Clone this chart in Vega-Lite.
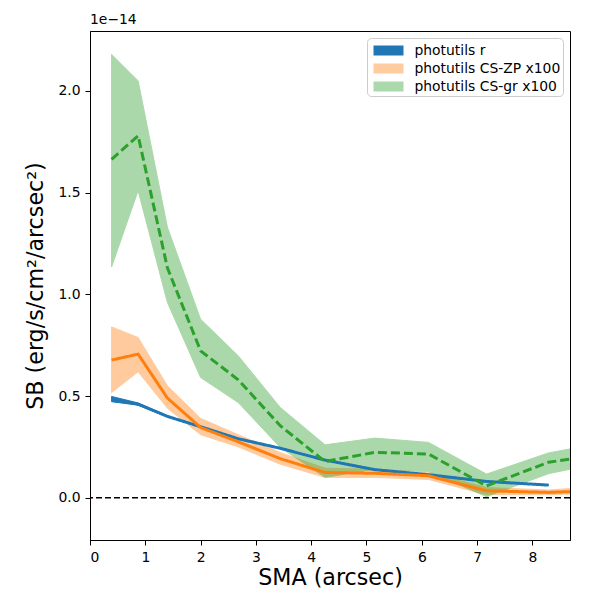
{
  "$schema": "https://vega.github.io/schema/vega-lite/v6.json",
  "width": 480,
  "height": 509,
  "autosize": {"type": "none"},
  "padding": {"left": 90, "top": 31, "right": 30, "bottom": 60},
  "background": "white",
  "title": {"text": "1e\u221214", "anchor": "start", "frame": "group", "fontSize": 13.9, "fontWeight": "normal", "font": "DejaVu Sans", "color": "black", "offset": 4},
  "config": {
    "font": "DejaVu Sans",
    "view": {"stroke": "black", "strokeWidth": 1},
    "axis": {"domainColor": "black", "tickColor": "black", "tickSize": 5, "labelFontSize": 13.9, "labelColor": "black", "grid": false, "labelPadding": 5, "titleFontSize": 22.2, "titleFontWeight": "normal", "titleColor": "black", "labelFont": "DejaVu Sans", "titleFont": "DejaVu Sans"},
    "legend": {"labelFont": "DejaVu Sans", "labelFontSize": 13.9, "labelColor": "black"}
  },
  "data": {"values": [
    {"series": "photutils r", "x": 0.39, "y": 0.485, "lo": 0.472, "hi": 0.498},
    {"series": "photutils r", "x": 0.87, "y": 0.46, "lo": 0.455, "hi": 0.466},
    {"series": "photutils r", "x": 1.40, "y": 0.40, "lo": 0.397, "hi": 0.403},
    {"series": "photutils r", "x": 2.00, "y": 0.349, "lo": 0.347, "hi": 0.351},
    {"series": "photutils r", "x": 2.68, "y": 0.29, "lo": 0.288, "hi": 0.292},
    {"series": "photutils r", "x": 3.44, "y": 0.243, "lo": 0.241, "hi": 0.245},
    {"series": "photutils r", "x": 4.25, "y": 0.185, "lo": 0.183, "hi": 0.187},
    {"series": "photutils r", "x": 5.15, "y": 0.138, "lo": 0.136, "hi": 0.14},
    {"series": "photutils r", "x": 6.12, "y": 0.113, "lo": 0.111, "hi": 0.115},
    {"series": "photutils r", "x": 7.17, "y": 0.08, "lo": 0.078, "hi": 0.082},
    {"series": "photutils r", "x": 8.29, "y": 0.062, "lo": 0.06, "hi": 0.064},
    {"series": "photutils CS-ZP x100", "x": 0.39, "y": 0.677, "lo": 0.517, "hi": 0.84},
    {"series": "photutils CS-ZP x100", "x": 0.87, "y": 0.706, "lo": 0.619, "hi": 0.788},
    {"series": "photutils CS-ZP x100", "x": 1.40, "y": 0.49, "lo": 0.44, "hi": 0.55},
    {"series": "photutils CS-ZP x100", "x": 2.00, "y": 0.345, "lo": 0.31, "hi": 0.39},
    {"series": "photutils CS-ZP x100", "x": 2.68, "y": 0.275, "lo": 0.25, "hi": 0.31},
    {"series": "photutils CS-ZP x100", "x": 3.44, "y": 0.192, "lo": 0.165, "hi": 0.222},
    {"series": "photutils CS-ZP x100", "x": 4.25, "y": 0.124, "lo": 0.10, "hi": 0.145},
    {"series": "photutils CS-ZP x100", "x": 5.15, "y": 0.12, "lo": 0.10, "hi": 0.14},
    {"series": "photutils CS-ZP x100", "x": 6.12, "y": 0.108, "lo": 0.09, "hi": 0.125},
    {"series": "photutils CS-ZP x100", "x": 7.17, "y": 0.034, "lo": 0.015, "hi": 0.05},
    {"series": "photutils CS-ZP x100", "x": 8.29, "y": 0.026, "lo": 0.015, "hi": 0.038},
    {"series": "photutils CS-ZP x100", "x": 8.68, "y": 0.03, "lo": 0.018, "hi": 0.045},
    {"series": "photutils CS-gr x100", "x": 0.39, "y": 1.664, "lo": 1.135, "hi": 2.18},
    {"series": "photutils CS-gr x100", "x": 0.87, "y": 1.78, "lo": 1.51, "hi": 2.05},
    {"series": "photutils CS-gr x100", "x": 1.40, "y": 1.13, "lo": 0.96, "hi": 1.33},
    {"series": "photutils CS-gr x100", "x": 2.00, "y": 0.722, "lo": 0.591, "hi": 0.878},
    {"series": "photutils CS-gr x100", "x": 2.68, "y": 0.58, "lo": 0.468, "hi": 0.698},
    {"series": "photutils CS-gr x100", "x": 3.44, "y": 0.354, "lo": 0.247, "hi": 0.444},
    {"series": "photutils CS-gr x100", "x": 4.25, "y": 0.178, "lo": 0.10, "hi": 0.26},
    {"series": "photutils CS-gr x100", "x": 5.15, "y": 0.223, "lo": 0.14, "hi": 0.293},
    {"series": "photutils CS-gr x100", "x": 6.12, "y": 0.215, "lo": 0.13, "hi": 0.272},
    {"series": "photutils CS-gr x100", "x": 7.17, "y": 0.058, "lo": 0.005, "hi": 0.116},
    {"series": "photutils CS-gr x100", "x": 8.29, "y": 0.174, "lo": 0.118, "hi": 0.22},
    {"series": "photutils CS-gr x100", "x": 8.68, "y": 0.19, "lo": 0.14, "hi": 0.24}
  ]},
  "layer": [
    {
      "mark": {"type": "area", "clip": true, "strokeWidth": 1},
      "encoding": {
        "x": {"field": "x", "type": "quantitative", "scale": {"domain": [0, 8.68], "nice": false, "zero": false}, "title": "SMA (arcsec)", "axis": {"values": [0, 1, 2, 3, 4, 5, 6, 7, 8], "format": "d", "titlePadding": 3}},
        "y": {"field": "lo", "type": "quantitative", "scale": {"domain": [-0.208, 2.295], "nice": false, "zero": false}, "title": "SB (erg/s/cm\u00b2/arcsec\u00b2)", "axis": {"values": [0, 0.5, 1, 1.5, 2], "format": ".1f", "titlePadding": 10}},
        "y2": {"field": "hi"},
        "color": {"field": "series", "type": "nominal", "scale": {"domain": ["photutils r", "photutils CS-ZP x100", "photutils CS-gr x100"], "range": ["#1f77b4", "#ff7f0e", "#2ca02c"]},
          "legend": {"title": null, "orient": "top-right", "offset": 7, "strokeColor": "#cccccc", "fillColor": "white", "cornerRadius": 4, "padding": 2.5, "rowPadding": 1, "symbolType": "M-1.5,-0.5H1.5V0.5H-1.5Z", "symbolSize": 400, "symbolStrokeWidth": 0, "symbolOffset": 9, "labelOffset": 16, "labelLimit": 300}},
        "opacity": {"field": "series", "type": "nominal", "scale": {"type": "ordinal", "domain": ["photutils r", "photutils CS-ZP x100", "photutils CS-gr x100"], "range": [1, 0.4, 0.4]},
          "legend": {"title": null, "orient": "top-right", "offset": 7, "strokeColor": "#cccccc", "fillColor": "white", "cornerRadius": 4, "padding": 2.5, "rowPadding": 1, "symbolType": "M-1.5,-0.5H1.5V0.5H-1.5Z", "symbolSize": 400, "symbolStrokeWidth": 0, "symbolOffset": 9, "labelOffset": 16, "labelLimit": 300}},
        "stroke": {"field": "series", "type": "nominal", "scale": {"domain": ["photutils r", "photutils CS-ZP x100", "photutils CS-gr x100"], "range": ["#1f77b4", "#ff7f0e", "#2ca02c"]}, "legend": null}
      }
    },
    {
      "mark": {"type": "line", "clip": true, "strokeWidth": 3},
      "encoding": {
        "x": {"field": "x", "type": "quantitative"},
        "y": {"field": "y", "type": "quantitative"},
        "stroke": {"field": "series", "type": "nominal", "scale": {"domain": ["photutils r", "photutils CS-ZP x100", "photutils CS-gr x100"], "range": ["#1f77b4", "#ff7f0e", "#2ca02c"]}, "legend": null},
        "strokeDash": {"field": "series", "type": "nominal", "scale": {"domain": ["photutils r", "photutils CS-ZP x100", "photutils CS-gr x100"], "range": [[1, 0], [1, 0], [9, 4]]}, "legend": null}
      }
    },
    {
      "data": {"values": [{"zero": 0}]},
      "mark": {"type": "rule", "color": "black", "strokeWidth": 1.5, "strokeDash": [6, 3]},
      "encoding": {"y": {"field": "zero", "type": "quantitative"}}
    }
  ]
}
